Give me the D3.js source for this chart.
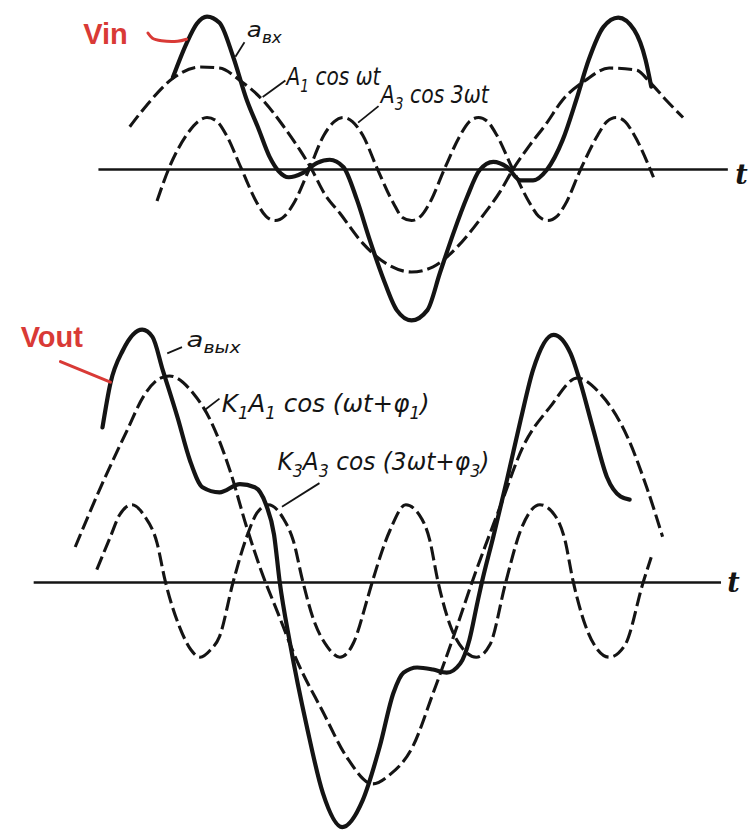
<!DOCTYPE html>
<html>
<head>
<meta charset="utf-8">
<title>Vin / Vout</title>
<script src="https://cdn.jsdelivr.net/npm/d3@7/dist/d3.min.js"></script>
<style>
body{margin:0;background:#fff}
svg{display:block;background:#fff}
.axis path{stroke:#141414;stroke-width:2.6px}
.wave{fill:none;stroke:#141414;stroke-linejoin:round}
.dash{stroke-width:3.1px;stroke-dasharray:14,5}
.solid{stroke-width:4.2px;stroke-linecap:round}
.lead{fill:none;stroke:#141414;stroke-width:1.8px}
.lbl{font-family:"DejaVu Sans",sans-serif;font-style:oblique;fill:#141414;white-space:pre}
.tlbl{font-family:"DejaVu Serif",serif;font-style:italic;font-weight:bold;font-size:27px;fill:#141414}
.red{fill:#d93a36;font-family:"Liberation Sans",Arial,sans-serif;font-weight:bold;font-size:29px}
.redline{fill:none;stroke:#d93a36;stroke-width:3px;stroke-linecap:round}
</style>
</head>
<body>
<svg id="chart" width="752" height="830"></svg>
<script>
// x = phase (wt) in degrees, y = amplitude in units of A1
// ---- input: a_in = A1 cos wt + A3 cos 3wt ----
var inFirst=[[-68,0.41],[-53,0.62],[-30,0.88],[-6,0.99],[11,0.98],[29,0.86],[49,0.67],[67,0.42],[82,0.18],
  [91,0.02],[104,-0.25],[117,-0.43],[137,-0.72],[158,-0.92],[180,-1.0],[199,-0.95],[220,-0.76],[243,-0.45],
  [258,-0.22],[269,-0.01],[284,0.23],[298,0.43],[313,0.67],[333,0.86],[354,0.98],[378,0.96],[390,0.84],
  [404,0.67],[419,0.50]]
var inThird=[[-44,-0.31],[-33,0.02],[-18,0.33],[-8,0.46],[0,0.50],[9,0.46],[17,0.33],[30,0.01],[44,-0.33],
  [52,-0.46],[60,-0.50],[68,-0.46],[76,-0.34],[90,0.0],[103,0.33],[112,0.46],[120,0.50],[128,0.46],[137,0.33],
  [150,0.0],[164,-0.33],[172,-0.47],[180,-0.50],[188,-0.46],[196,-0.33],[209,0.0],[223,0.33],[231,0.46],
  [239,0.50],[247,0.46],[255,0.33],[269,0.0],[284,-0.33],[292,-0.46],[300,-0.50],[308,-0.46],[315,-0.35],
  [329,0.0],[344,0.33],[352,0.46],[360,0.50],[368,0.46],[376,0.33],[393,-0.08]]
var inSum=[[-30,0.89],[-18,1.22],[-9,1.41],[0,1.48],[11,1.42],[23,1.09],[35,0.67],[45,0.40],[55,0.12],
  [63,-0.02],[72,-0.08],[84,-0.04],[97,0.06],[108,0.09],[120,0.02],[132,-0.30],[143,-0.68],[155,-1.06],
  [167,-1.37],[180,-1.47],[194,-1.37],[205,-1.01],[217,-0.62],[229,-0.27],[240,-0.01],[252,0.07],[264,0.02],
  [276,-0.11],[287,-0.11],[299,-0.01],[313,0.28],[325,0.67],[336,1.06],[349,1.38],[362,1.47],[376,1.35],
  [386,1.06],[391,0.80]]

// ---- output: a_out = K1A1 cos(wt+f1) + K3A3 cos(3wt+f3) ----
var outFirst=[[-116,0.34],[-92,0.96],[-70,1.48],[-56,1.80],[-41,1.98],[-33,2.0],[-12,1.83],[3,1.57],[20,1.09],
  [35,0.53],[48,0.10],[62,-0.29],[79,-0.76],[102,-1.26],[123,-1.70],[146,-1.96],[161,-1.87],[181,-1.60],
  [199,-1.08],[217,-0.53],[234,0.02],[258,0.73],[278,1.31],[302,1.70],[326,1.98],[346,1.83],[370,1.41],
  [387,0.92],[401,0.44]]
var outThird=[[-97,0.12],[-85,0.44],[-77,0.65],[-66,0.75],[-55,0.64],[-44,0.38],[-37,0.02],[-24,-0.44],
  [-14,-0.66],[-6,-0.73],[3,-0.66],[11,-0.53],[23,0.0],[35,0.44],[44,0.67],[54,0.75],[67,0.62],[76,0.40],
  [84,0.02],[93,-0.34],[106,-0.63],[117,-0.73],[129,-0.59],[141,-0.17],[146,0.02],[161,0.50],[175,0.75],
  [187,0.65],[196,0.41],[203,0.02],[214,-0.42],[226,-0.66],[237,-0.73],[249,-0.61],[263,0.0],[276,0.50],
  [293,0.75],[306,0.65],[315,0.41],[322,0.02],[333,-0.42],[344,-0.66],[354,-0.73],[368,-0.61],[384,0.0],
  [391,0.24]]
var outSum=[[-92,1.50],[-85,1.93],[-74,2.25],[-57,2.45],[-48,2.38],[-39,2.06],[-26,1.60],[-15,1.18],[-4,0.92],
  [11,0.87],[29,0.95],[42,0.92],[52,0.75],[59,0.46],[64,0.0],[73,-0.59],[88,-1.41],[102,-2.05],[119,-2.38],
  [137,-2.12],[152,-1.60],[164,-1.08],[173,-0.88],[185,-0.83],[199,-0.85],[211,-0.88],[223,-0.79],[231,-0.56],
  [238,-0.20],[242,0.0],[252,0.44],[264,0.99],[276,1.57],[287,2.06],[305,2.40],[320,2.22],[328,1.96],
  [340,1.48],[352,1.02],[364,0.83],[372,0.80]]

var axisName="t"
var nameIn="Vin", nameOut="Vout"

function buildChart()
{
var svg=d3.select("#chart")

var xScale=d3.scaleLinear().domain([0,360]).range([207,616])   // one period of wt
var yTop=d3.scaleLinear().domain([-1,1]).range([272,66])
var yBot=d3.scaleLinear().domain([-1,1]).range([685,479])

// time axes (no ticks, just the line)
function axisAt(yS,ext){
  var s=d3.scaleLinear().domain(ext).range(ext.map(xScale))
  svg.append("g").attr("class","axis")
    .attr("transform","translate(0,"+yS(0)+")")
    .call(d3.axisBottom(s).tickValues([]).tickSizeOuter(0))
}
axisAt(yTop,[-96,458])
axisAt(yBot,[-153,452])

svg.append("text").attr("class","tlbl").attr("x",xScale(465)).attr("y",yTop(-0.15)).text(axisName)
svg.append("text").attr("class","tlbl").attr("x",xScale(458)).attr("y",yBot(-0.10)).text(axisName)

function wave(yS){
  return d3.line().x(function(d){return xScale(d[0])}).y(function(d){return yS(d[1])}).curve(d3.curveMonotoneX)
}
var lineTop=wave(yTop), lineBot=wave(yBot)

svg.append("path").datum(inFirst).attr("class","wave dash").attr("d",lineTop)
svg.append("path").datum(inThird).attr("class","wave dash").attr("d",lineTop)
svg.append("path").datum(inSum).attr("class","wave solid").attr("d",lineTop)

svg.append("path").datum(outFirst).attr("class","wave dash").attr("d",lineBot)
svg.append("path").datum(outThird).attr("class","wave dash").attr("d",lineBot)
svg.append("path").datum(outSum).attr("class","wave solid").attr("d",lineBot)

// leader lines and labels
function leader(yS,pts,cls){
  var l=d3.line().x(function(d){return xScale(d[0])}).y(function(d){return yS(d[1])}).curve(d3.curveCatmullRom)
  svg.append("path").datum(pts).attr("class",cls||"lead").attr("d",l)
}
function label(yS,at,parts,w,size){
  var t=svg.append("text").attr("class","lbl").attr("font-size",size)
  var shift=0
  parts.forEach(function(p){
    var s=p[1]?Math.round(size*0.28):0
    t.append("tspan").attr("dy",s-shift).attr("font-size",p[1]?Math.round(size*0.66):size).text(p[0])
    shift=s
  })
  var k=w/t.node().getComputedTextLength()
  t.attr("transform","translate("+xScale(at[0])+","+yS(at[1])+") scale("+k+",1)")
}

leader(yTop,[[25,1.09],[33,1.23]])
label(yTop,[35,1.28],[["a",0],["вх",1]],35,22)
leader(yTop,[[49,0.70],[69,0.86]])
label(yTop,[70,0.82],[["A",0],["1",1],[" cos ωt",0]],94,25)
leader(yTop,[[133,0.45],[151,0.61]])
label(yTop,[153,0.64],[["A",0],["3",1],[" cos 3ωt",0]],108,25)

leader(yBot,[[-35,2.22],[-22,2.28]])
label(yBot,[-18,2.28],[["a",0],["вых",1]],54,22)
leader(yBot,[[-2,1.67],[11,1.78]])
label(yBot,[13,1.65],[["K",0],["1",1],["A",0],["1",1],[" cos (ωt+φ",0],["1",1],[")",0]],208,25)
leader(yBot,[[66,0.73],[99,0.96]])
label(yBot,[62,1.09],[["K",0],["3",1],["A",0],["3",1],[" cos (3ωt+φ",0],["3",1],[")",0]],212,25)

// red call-outs
svg.append("text").attr("class","red").attr("x",xScale(-109)).attr("y",yTop(1.21)).text(nameIn)
leader(yTop,[[-52,1.32],[-48,1.27],[-40,1.245],[-26,1.24],[-18,1.26]],"redline")
svg.append("text").attr("class","red").attr("x",xScale(-164)).attr("y",yBot(2.28)).text(nameOut)
leader(yBot,[[-129,2.14],[-85,1.94]],"redline")
}

buildChart()
</script>
</body>
</html>
